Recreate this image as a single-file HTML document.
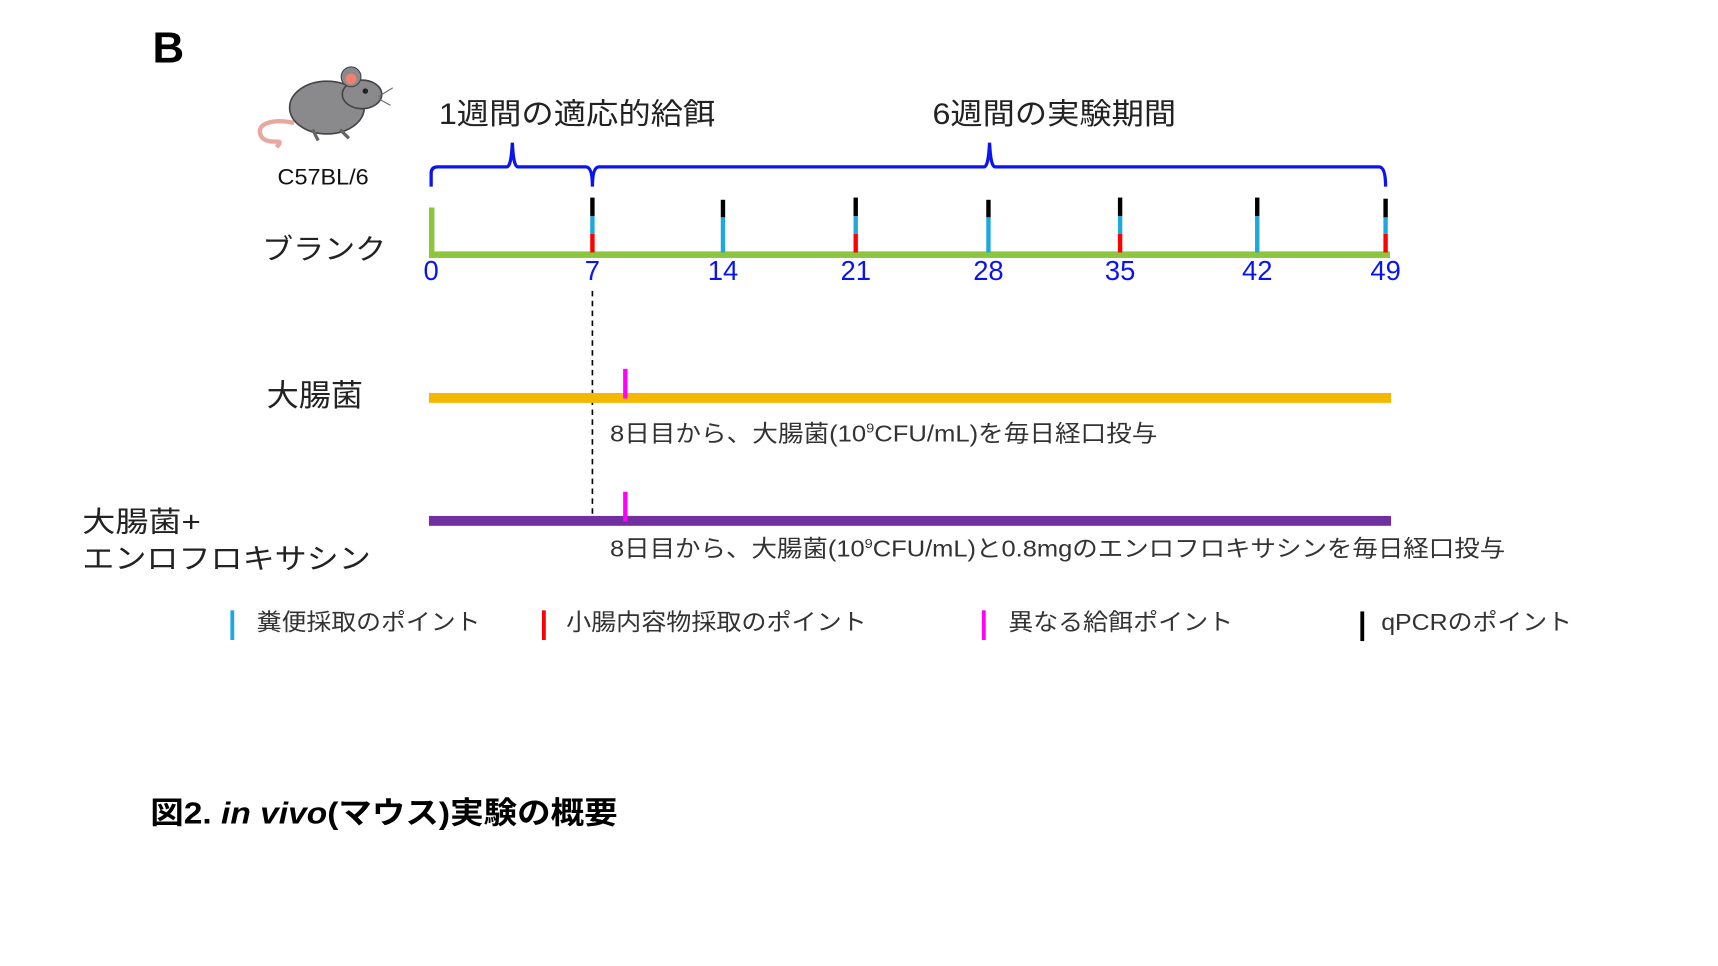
<!DOCTYPE html>
<html><head><meta charset="utf-8"><style>
html,body{margin:0;padding:0;background:#fff;}
svg{display:block;}
text{font-family:"Liberation Sans","Noto Sans CJK JP",sans-serif;}
</style></head><body>
<svg width="1718" height="966" viewBox="0 0 1566 880" preserveAspectRatio="none" xmlns="http://www.w3.org/2000/svg">
<text x="139" y="57" font-size="40" font-weight="bold" fill="#000">B</text>
<!-- mouse -->
<g>
<path d="M268 112 C250 108 232 112 238 124 C244 134 262 124 252 134" stroke="#e8a8a0" stroke-width="4" fill="none"/>
<ellipse cx="298" cy="98" rx="34" ry="24" fill="#8a8a8c" stroke="#444" stroke-width="1.5"/>
<ellipse cx="330" cy="86" rx="18" ry="13" fill="#8a8a8c" stroke="#444" stroke-width="1.5"/>
<circle cx="320" cy="70" r="9" fill="#8a8a8c" stroke="#444"/>
<circle cx="320" cy="72" r="5" fill="#f08070"/>
<circle cx="333" cy="83" r="2.5" fill="#222"/>
<path d="M345 88 L358 80 M345 90 L356 96" stroke="#666" stroke-width="1"/>
<path d="M285 118 L290 128 M310 118 L318 126" stroke="#666" stroke-width="3"/>
</g>
<text x="253" y="168" font-size="20" fill="#111" textLength="83" lengthAdjust="spacingAndGlyphs">C57BL/6</text>
<text x="400" y="113" font-size="27" fill="#222" textLength="252" lengthAdjust="spacingAndGlyphs">1週間の適応的給餌</text>
<text x="850" y="113" font-size="27" fill="#222" textLength="222" lengthAdjust="spacingAndGlyphs">6週間の実験期間</text>
<!-- brace -->
<path d="M393 170 L393 158 Q393 152 399 152 L462 152 Q466 152 467 130 Q468 152 472 152 L534 152 Q540 152 540 170 Q540 152 546 152 L897 152 Q901 152 902 130 Q903 152 907 152 L1257 152 Q1263 152 1263 170" stroke="#0a14f0" stroke-width="3" fill="none"/>
<!-- timeline -->
<rect x="391" y="189" width="5" height="45" fill="#8cc63f"/>
<rect x="391" y="229" width="876" height="6" fill="#8cc63f"/>
<g>
<rect x="538" y="180" width="4" height="17" fill="#000"/><rect x="538" y="197" width="4" height="16" fill="#1fa8e0"/><rect x="538" y="213" width="4" height="17" fill="#f00"/>
<rect x="657" y="182" width="4" height="16" fill="#000"/><rect x="657" y="198" width="4" height="32" fill="#1fa8e0"/>
<rect x="778" y="180" width="4" height="17" fill="#000"/><rect x="778" y="197" width="4" height="16" fill="#1fa8e0"/><rect x="778" y="213" width="4" height="17" fill="#f00"/>
<rect x="899" y="182" width="4" height="16" fill="#000"/><rect x="899" y="198" width="4" height="32" fill="#1fa8e0"/>
<rect x="1019" y="180" width="4" height="17" fill="#000"/><rect x="1019" y="197" width="4" height="16" fill="#1fa8e0"/><rect x="1019" y="213" width="4" height="17" fill="#f00"/>
<rect x="1144" y="180" width="4" height="17" fill="#000"/><rect x="1144" y="197" width="4" height="33" fill="#1fa8e0"/>
<rect x="1261" y="181" width="4" height="17" fill="#000"/><rect x="1261" y="198" width="4" height="15" fill="#1fa8e0"/><rect x="1261" y="213" width="4" height="17" fill="#f00"/>
</g>
<g font-size="25" fill="#0a14f0" text-anchor="middle">
<text x="393" y="255">0</text><text x="540" y="255">7</text><text x="659" y="255">14</text><text x="780" y="255">21</text><text x="901" y="255">28</text><text x="1021" y="255">35</text><text x="1146" y="255">42</text><text x="1263" y="255">49</text>
</g>
<text x="239" y="236" font-size="26" fill="#222" textLength="113" lengthAdjust="spacingAndGlyphs">ブランク</text>
<line x1="540" y1="265" x2="540" y2="470" stroke="#000" stroke-width="1.5" stroke-dasharray="5,4"/>
<text x="243" y="370" font-size="28" fill="#222" textLength="88" lengthAdjust="spacingAndGlyphs">大腸菌</text>
<rect x="391" y="358" width="877" height="9" fill="#f5b800"/>
<rect x="568" y="336" width="4" height="27" fill="#f0f"/>
<text x="556" y="402" font-size="21" fill="#333" textLength="499" lengthAdjust="spacingAndGlyphs">8日目から、大腸菌(10<tspan font-size="12" dy="-8">9</tspan><tspan dy="8">CFU/mL)を毎日経口投与</tspan></text>
<text x="75" y="484" font-size="26" fill="#222" textLength="108" lengthAdjust="spacingAndGlyphs">大腸菌+</text>
<text x="75" y="518" font-size="26" fill="#222" textLength="263" lengthAdjust="spacingAndGlyphs">エンロフロキサシン</text>
<rect x="391" y="470" width="877" height="9" fill="#7030a0"/>
<rect x="568" y="448" width="4" height="27" fill="#f0f"/>
<text x="556" y="507" font-size="21" fill="#333" textLength="816" lengthAdjust="spacingAndGlyphs">8日目から、大腸菌(10<tspan font-size="12" dy="-8">9</tspan><tspan dy="8">CFU/mL)と0.8mgのエンロフロキサシンを毎日経口投与</tspan></text>
<!-- legend -->
<rect x="210" y="556" width="3.5" height="27" fill="#1fa8e0"/>
<text x="234" y="574" font-size="21" fill="#333" textLength="204" lengthAdjust="spacingAndGlyphs">糞便採取のポイント</text>
<rect x="494" y="556" width="3.5" height="27" fill="#f00"/>
<text x="516" y="574" font-size="21" fill="#333" textLength="274" lengthAdjust="spacingAndGlyphs">小腸内容物採取のポイント</text>
<rect x="895" y="556" width="3.5" height="27" fill="#f0f"/>
<text x="919" y="574" font-size="21" fill="#333" textLength="205" lengthAdjust="spacingAndGlyphs">異なる給餌ポイント</text>
<rect x="1240" y="557" width="3.5" height="27" fill="#000"/>
<text x="1259" y="574" font-size="21" fill="#333" textLength="174" lengthAdjust="spacingAndGlyphs">qPCRのポイント</text>
<text x="137" y="750" font-size="28" font-weight="bold" fill="#000" textLength="426" lengthAdjust="spacingAndGlyphs">図2. <tspan font-style="italic">in vivo</tspan>(マウス)実験の概要</text>
</svg>
</body></html>
